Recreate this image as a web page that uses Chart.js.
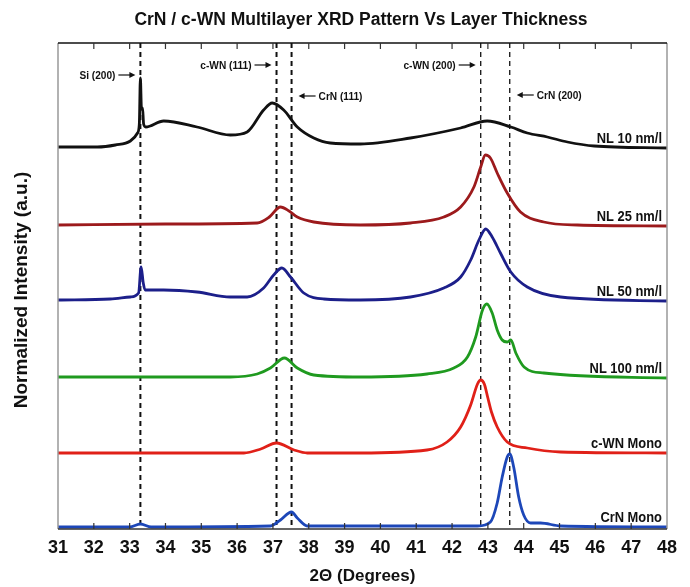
<!DOCTYPE html>
<html>
<head>
<meta charset="utf-8">
<script src="https://cdn.jsdelivr.net/npm/chart.js@4.4.1/dist/chart.umd.min.js"></script>
<style>
  html, body { margin: 0; padding: 0; background: #fff; }
  #wrap { width: 690px; height: 587px; position: relative; }
</style>
</head>
<body>
<div id="wrap"><canvas id="grafico"></canvas></div>
<script>
// valores: [2θ, intensidade normalizada + deslocamento]
const nl10 = [[31.0,382],[32.1,382],[32.6,384],[33.02,388],[33.22,396],[33.27,405],[33.3,451],[33.33,420],[33.36,421],[33.39,405],[33.45,402],[33.95,408],[34.88,402],[35.81,394],[36.28,397],[36.74,419],[36.98,426],[37.3,419],[37.68,402],[38.14,391],[38.6,386],[39.44,385],[40.84,391],[42.24,401],[42.98,408],[43.64,402],[44.1,396],[44.66,392],[45.22,387],[45.97,383],[48,381]];
const nl25 = [[31,304],[34,305],[36.56,306],[36.9,312],[37.21,322],[37.45,318],[37.68,312],[38.14,307],[39.44,304],[40.84,306],[41.77,312],[42.24,322],[42.61,342],[42.8,362],[42.93,374],[43.07,371],[43.26,356],[43.54,336],[43.91,317],[44.56,307],[45.5,304],[48,303]];
const nl50 = [[31,229],[32.46,230],[33.02,232],[33.25,236],[33.32,262],[33.38,246],[33.43,239],[33.95,239],[34.88,237],[35.81,232],[36.28,232],[36.74,241],[37.02,254],[37.25,261],[37.49,252],[37.86,236],[38.42,230],[39.44,229],[40.84,232],[41.77,241],[42.24,252],[42.52,269],[42.75,289],[42.94,300],[43.12,292],[43.35,276],[43.64,257],[44.1,242],[45.03,232],[48,228]];
const nl100 = [[31,152],[35.81,152],[36.56,155],[36.93,161],[37.32,171],[37.68,161],[38.14,154],[39.44,152],[41.3,155],[42.05,161],[42.43,172],[42.66,192],[42.85,219],[42.97,225],[43.12,216],[43.26,199],[43.4,189],[43.54,187],[43.64,189],[43.78,176],[44.01,162],[44.56,156],[48,151]];
const cwnMono = [[31,76],[36.19,76],[36.66,80],[37.1,86],[37.59,79],[37.96,76],[39.44,76],[41.3,79],[41.86,87],[42.24,102],[42.52,124],[42.71,145],[42.8,149],[42.9,145],[43.0,131],[43.1,117],[43.26,102],[43.54,87],[44.1,81],[45.03,77],[48,76]];
const crnMono = [[31,2],[33.0,2],[33.3,5],[33.6,2],[36.93,3],[37.21,9],[37.52,17],[37.68,11],[37.96,3],[42.71,3],[43.07,7],[43.26,26],[43.4,52],[43.54,72],[43.61,75],[43.72,62],[43.86,32],[44.0,14],[44.19,6],[44.47,6],[45.03,3],[48,2]];

const series = [nl10, nl25, nl50, nl100, cwnMono, crnMono];
const nomes = ['NL 10 nm/l', 'NL 25 nm/l', 'NL 50 nm/l', 'NL 100 nm/l', 'c-WN Mono', 'CrN Mono'];
const cores = ['#111111', '#9c1a1c', '#1c1f8a', '#1f9a1f', '#e02018', '#1d47b8'];

// linhas de referência (picos)
const picos = [33.3, 37.1, 37.52, 42.8, 43.61];
const picosNomes = ['Si (200)', 'c-WN (111)', 'CrN (111)', 'c-WN (200)', 'CrN (200)'];

const fonte = "'Liberation Sans', Arial, sans-serif";

// texto levemente condensado (a fonte original é estreita)
function textoEstreito(ctx, txt, x, y, fator) {
  ctx.save();
  ctx.translate(x, y);
  ctx.scale(fator, 1);
  ctx.fillText(txt, 0, 0);
  ctx.restore();
}

const molduraPlugin = {
  id: 'moldura',
  beforeDatasetsDraw(chart) {
    const { ctx, chartArea: a, scales: { x } } = chart;
    ctx.save();
    // linhas tracejadas
    picos.forEach((p, i) => {
      const px = x.getPixelForValue(p);
      ctx.beginPath();
      ctx.setLineDash([5, 4]);
      ctx.lineWidth = i < 3 ? 2 : 1.3;
      ctx.strokeStyle = '#111';
      ctx.moveTo(px, a.top);
      ctx.lineTo(px, a.bottom);
      ctx.stroke();
    });
    ctx.restore();
  },
  afterDraw(chart) {
    const { ctx, chartArea: a, scales: { x } } = chart;
    ctx.save();
    // moldura
    ctx.lineWidth = 1.5;
    ctx.strokeStyle = '#999';
    ctx.beginPath();
    ctx.moveTo(a.left, a.top); ctx.lineTo(a.left, a.bottom);
    ctx.moveTo(a.right, a.top); ctx.lineTo(a.right, a.bottom);
    ctx.stroke();
    ctx.strokeStyle = '#111';
    ctx.beginPath();
    ctx.moveTo(a.left, a.top); ctx.lineTo(a.right, a.top);
    ctx.stroke();
    ctx.strokeStyle = '#333';
    ctx.beginPath();
    ctx.moveTo(a.left, a.bottom); ctx.lineTo(a.right, a.bottom);
    ctx.stroke();

    // ticks internos
    ctx.lineWidth = 1.2;
    ctx.strokeStyle = '#333';
    x.ticks.forEach((t) => {
      if (t.value <= x.min || t.value >= x.max) return;
      const px = x.getPixelForValue(t.value);
      ctx.beginPath();
      ctx.moveTo(px, a.bottom); ctx.lineTo(px, a.bottom - 6);
      ctx.moveTo(px, a.top); ctx.lineTo(px, a.top + 6);
      ctx.stroke();
    });

    // nomes das curvas
    ctx.fillStyle = '#111';
    ctx.font = 'bold 15px ' + fonte;
    ctx.textAlign = 'right';
    ctx.textBaseline = 'alphabetic';
    const y = chart.scales.y;
    series.forEach((s, i) => {
      const py = y.getPixelForValue(s[s.length - 1][1]);
      textoEstreito(ctx, nomes[i], a.right - 5, py - 5, 0.86);
    });

    // anotações com setas
    ctx.font = 'bold 11px ' + fonte;
    ctx.lineWidth = 1.2;
    ctx.strokeStyle = '#111';
    const alturas = [75, 65, 96, 65, 95];
    const direita = [true, true, false, true, false];
    picos.forEach((p, i) => {
      const px = x.getPixelForValue(p);
      const ay = alturas[i];
      const d = direita[i] ? 1 : -1;
      const tip = direita[i] ? px - 5 : px + 7;
      const tail = tip - d * 17;
      ctx.textAlign = direita[i] ? 'right' : 'left';
      textoEstreito(ctx, picosNomes[i], tail - d * 3, ay + 4, 0.92);
      ctx.beginPath();
      ctx.moveTo(tail, ay); ctx.lineTo(tip - d * 4, ay);
      ctx.stroke();
      ctx.beginPath();
      ctx.moveTo(tip, ay);
      ctx.lineTo(tip - d * 6, ay - 3);
      ctx.lineTo(tip - d * 6, ay + 3);
      ctx.closePath();
      ctx.fill();
    });

    // título do eixo y
    ctx.save();
    ctx.translate(22, 290);
    ctx.rotate(-Math.PI / 2);
    ctx.textAlign = 'center';
    ctx.textBaseline = 'middle';
    ctx.font = 'bold 19px ' + fonte;
    ctx.fillText('Normalized Intensity (a.u.)', 0, 0);
    ctx.restore();

    // título
    ctx.font = 'bold 17.5px ' + fonte;
    ctx.textAlign = 'center';
    ctx.textBaseline = 'middle';
    ctx.fillText('CrN / c-WN Multilayer XRD Pattern Vs Layer Thickness', 361, 20);
    ctx.restore();
  }
};

new Chart(document.getElementById('grafico'), {
  type: 'scatter',
  data: {
    datasets: series.map((s, i) => ({
      label: nomes[i],
      data: s.map(([a, b]) => ({ x: a, y: b })),
      showLine: true,
      borderColor: cores[i],
      borderWidth: 2.8,
      pointRadius: 0,
      cubicInterpolationMode: 'monotone',
      clip: false
    }))
  },
  options: {
    responsive: true,
    maintainAspectRatio: false,
    animation: false,
    layout: { padding: { left: 58, right: 23, top: 43, bottom: 0 } },
    plugins: {
      legend: { display: false },
      tooltip: { enabled: false },
      title: { display: false }
    },
    scales: {
      x: {
        type: 'linear',
        min: 31,
        max: 48,
        grid: { display: false, drawTicks: false },
        border: { display: false },
        ticks: {
          stepSize: 1,
          autoSkip: false,
          maxRotation: 0,
          padding: 8,
          color: '#111',
          font: { family: fonte, size: 18, weight: 'bold' }
        },
        title: {
          display: true,
          text: '2Θ (Degrees)',
          color: '#111',
          padding: { top: 0, bottom: 0 },
          font: { family: fonte, size: 17, weight: 'bold' }
        }
      },
      y: {
        display: false,
        min: 0,
        max: 486
      }
    }
  },
  plugins: [molduraPlugin]
});
</script>
</body>
</html>
